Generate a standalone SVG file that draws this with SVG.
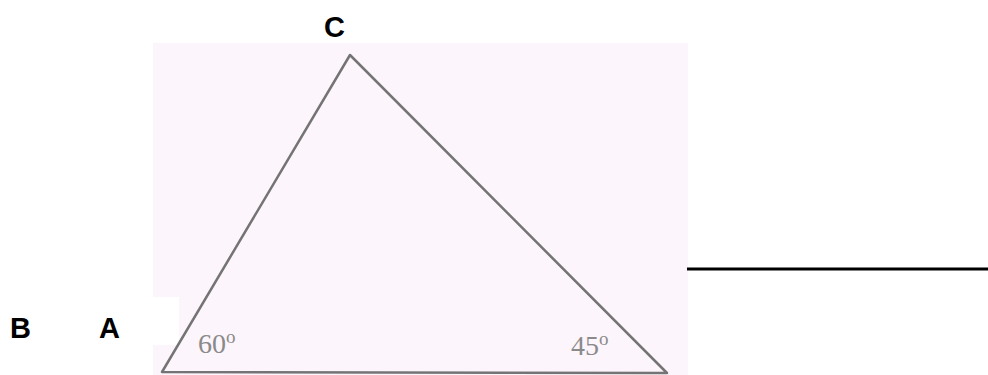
<svg xmlns="http://www.w3.org/2000/svg" width="988" height="375" viewBox="0 0 988 375">
<style>
.lbl{font-family:"Liberation Sans",Arial,sans-serif;font-weight:bold;font-size:29px;fill:#000}
.ang{font-family:"Liberation Serif","Times New Roman",serif;font-size:28px;fill:#8a8a8a}
.edge{fill:none;stroke:#747474;stroke-width:2.5;stroke-linejoin:round}
</style>
<rect x="0" y="0" width="988" height="375" fill="#ffffff"/>
<g id="figure">
<rect x="153" y="43" width="535" height="332" fill="#fdf5fc"/>
<rect x="153" y="297" width="26" height="48" fill="#ffffff"/>
</g>
<g id="connectors">
<polygon class="edge" points="350,55 162,372 667,373"/>
<line x1="687" y1="269" x2="988" y2="269" stroke="#000" stroke-width="3"/>
</g>
<g id="C"><text class="lbl" x="324" y="37">C</text></g>
<g id="B"><text class="lbl" x="10" y="338">B</text></g>
<g id="A"><text class="lbl" x="99" y="338">A</text></g>
<g id="angle60"><text class="ang" x="198" y="353">60<tspan font-size="19" dy="-10">o</tspan></text></g>
<g id="angle45"><text class="ang" x="571" y="355">45<tspan font-size="19" dy="-10">o</tspan></text></g>
</svg>
